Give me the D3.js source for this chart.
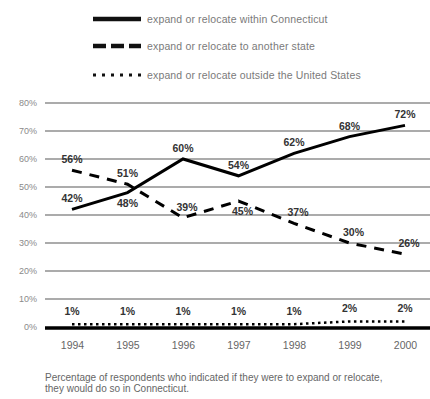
<!DOCTYPE html>
<html>
<head>
<meta charset="utf-8">
<script src="https://cdn.jsdelivr.net/npm/d3@7"></script>
<style>
  body { margin: 0; background: #fff; }
  text { font-family: "Liberation Sans", Arial, sans-serif; }
</style>
</head>
<body>
<script>
const width = 430;
const height = 399;

const years = ['1994', '1995', '1996', '1997', '1998', '1999', '2000'];
const withinCT = [42, 48, 60, 54, 62, 68, 72];
const otherState = [56, 51, 39, 45, 37, 30, 26];
const outsideUS = [1, 1, 1, 1, 1, 2, 2];
const yTicks = [0, 10, 20, 30, 40, 50, 60, 70, 80];

const legendLabels = [
  'expand or relocate within Connecticut',
  'expand or relocate to another state',
  'expand or relocate outside the United States'
];
const caption = [
  'Percentage of respondents who indicated if they were to expand or relocate,',
  'they would do so in Connecticut.'
];

const svg = d3.select('body')
    .append('svg')
    .attr('width', width)
    .attr('height', height);

const xScale = d3.scalePoint()
    .domain(years)
    .range([72, 405]);

const yScale = d3.scaleLinear()
    .domain([0, 80])
    .range([327, 103]);

// gridlines
svg.append('g')
  .selectAll('line')
  .data(yTicks.filter(d => d > 0))
  .enter()
  .append('line')
    .attr('x1', 45)
    .attr('x2', width)
    .attr('y1', d => yScale(d))
    .attr('y2', d => yScale(d))
    .style('stroke', '#ababab')
    .style('stroke-width', 2);

// y axis labels
const yAxis = d3.axisLeft(yScale)
    .tickValues(yTicks)
    .tickFormat(d => d + '%')
    .tickSize(0)
    .tickPadding(0);
const yg = svg.append('g').attr('transform', 'translate(37,0)');
yAxis(yg);
yg.select('.domain').remove();
yg.selectAll('text')
    .attr('font-family', null)
    .style('font-size', '9px')
    .style('fill', '#8a8a8a');

// x axis labels
const xAxis = d3.axisBottom(xScale).tickSize(0).tickPadding(0);
const xg = svg.append('g').attr('transform', 'translate(0,342)');
xAxis(xg);
xg.select('.domain').remove();
xg.selectAll('text')
    .attr('font-family', null)
    .style('font-size', '10.5px')
    .style('fill', '#666');

const series = [
  { values: withinCT, dash: null, w: 3 },
  { values: otherState, dash: '10,8', w: 3 },
  { values: outsideUS, dash: '2.5,3.5', w: 2.5 }
];

const line = d3.line()
    .x((d, i) => xScale(years[i]))
    .y(d => yScale(d));

// zero baseline
svg.append('line')
    .attr('x1', 45).attr('x2', width)
    .attr('y1', yScale(0) + 1).attr('y2', yScale(0) + 1)
    .style('stroke', '#000')
    .style('stroke-width', 3.5);

series.forEach(s => {
  svg.append('path')
      .datum(s.values)
      .attr('d', line)
      .style('fill', 'none')
      .style('stroke', '#000')
      .style('stroke-width', s.w)
      .style('stroke-dasharray', s.dash);
});

// data labels: which ones sit below their point
const below = { '0-1': true, '1-3': true };
series.forEach((s, si) => {
  svg.append('g')
    .selectAll('text')
    .data(s.values)
    .enter()
    .append('text')
      .attr('x', (d, i) => xScale(years[i]) + (si === 1 && i > 1 ? 4 : 0))
      .attr('y', (d, i) => below[si + '-' + i] ? yScale(d) + 14 : yScale(d) - (si === 2 ? 9 : 7))
      .attr('text-anchor', 'middle')
      .style('font-size', '10.5px')
      .style('font-weight', 'bold')
      .style('fill', '#333')
      .text(d => d + '%');
});

// legend
const legend = svg.append('g');
const legendY = [19, 46, 75];
const legendDash = [null, '13,5', '3,6'];
const legendW = [4.5, 4.5, 3];
legendLabels.forEach((label, i) => {
  legend.append('line')
      .attr('x1', 93).attr('x2', 141)
      .attr('y1', legendY[i]).attr('y2', legendY[i])
      .style('stroke', '#111')
      .style('stroke-width', legendW[i])
      .style('stroke-dasharray', legendDash[i]);
  legend.append('text')
      .attr('x', 147)
      .attr('y', legendY[i] + 3.5)
      .style('font-size', '10.5px')
      .style('letter-spacing', '0.15px')
      .style('fill', '#7a7a7a')
      .text(label);
});

// caption
svg.append('g')
  .selectAll('text')
  .data(caption)
  .enter()
  .append('text')
    .attr('x', 45)
    .attr('y', (d, i) => 381 + i * 11)
    .style('font-size', '10px')
    .style('fill', '#666')
    .text(d => d);
</script>
</body>
</html>
